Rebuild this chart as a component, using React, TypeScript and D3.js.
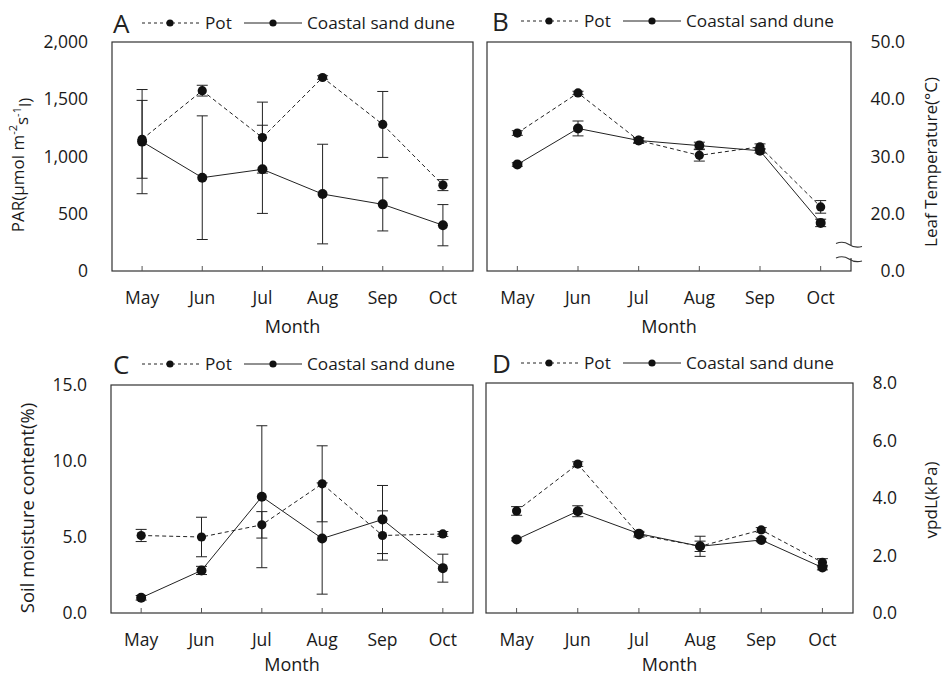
import React, { useRef, useEffect } from 'react';
import * as d3 from 'd3';

const months = ['May', 'Jun', 'Jul', 'Aug', 'Sep', 'Oct'];

// A: PAR
const parPot = [1150, 1575, 1165, 1690, 1280, 750];
const parPotErr = [340, 47, 310, 15, 288, 48];
const parDune = [1130, 815, 888, 672, 582, 400];
const parDuneErr = [455, 540, 385, 435, 232, 180];

// B: leaf temperature
const tempPot = [34.1, 41.1, 32.8, 30.2, 31.7, 21.2];
const tempPotErr = [0.4, 0.3, 0.5, 1.0, 0.5, 1.1];
const tempDune = [28.6, 34.9, 32.8, 31.9, 31.0, 18.4];
const tempDuneErr = [0.3, 1.3, 0.4, 0.6, 0.4, 0.65];

// C: soil moisture
const moistPot = [5.1, 5.0, 5.8, 8.5, 5.1, 5.2];
const moistPotErr = [0.4, 1.3, 0.87, 2.5, 1.62, 0.16];
const moistDune = [1.0, 2.8, 7.65, 4.9, 6.15, 2.95];
const moistDuneErr = [0.15, 0.27, 4.67, 3.66, 2.24, 0.92];

// D: vpdL
const vpdPot = [3.55, 5.18, 2.72, 2.32, 2.89, 1.76];
const vpdPotErr = [0.15, 0.08, 0.08, 0.18, 0.08, 0.13];
const vpdDune = [2.56, 3.54, 2.76, 2.32, 2.54, 1.58];
const vpdDuneErr = [0.05, 0.19, 0.08, 0.35, 0.06, 0.08];

const parTicks = [0, 500, 1000, 1500, 2000];
const tempTicks = [10, 20, 30, 40, 50]; // bottom tick is relabelled "0.0" (broken axis)
const moistTicks = [0, 5, 10, 15];
const vpdTicks = [0, 2, 4, 6, 8];

const FONT = '"Open Sans", "Segoe UI", sans-serif';
const INK = '#1a1a1a';

const panels = [
  {
    letter: 'A', x0: 112, x1: 473, y0: 42, y1: 271, legendY: 23, letterX: 113, monthY: 327,
    domain: [0, 2000], ticks: parTicks, fmt: d3.format(','), tickX: 88,
    title: 'PAR', titleX: 18, titleY: 165,
    pot: parPot, potErr: parPotErr, dune: parDune, duneErr: parDuneErr,
  },
  {
    letter: 'B', x0: 487, x1: 851, y0: 42, y1: 271, legendY: 21, letterX: 492, monthY: 327,
    domain: [10, 50], ticks: tempTicks, fmt: (d: number) => (d === 10 ? '0.0' : d.toFixed(1)), tickX: 905,
    title: 'Leaf Temperature(°C)', titleX: 931, titleY: 162, brk: true,
    pot: tempPot, potErr: tempPotErr, dune: tempDune, duneErr: tempDuneErr,
  },
  {
    letter: 'C', x0: 111, x1: 473, y0: 385, y1: 613, legendY: 364, letterX: 113, monthY: 665,
    domain: [0, 15], ticks: moistTicks, fmt: (d: number) => d.toFixed(1), tickX: 87,
    title: 'Soil moisture content(%)', titleX: 28, titleY: 508,
    pot: moistPot, potErr: moistPotErr, dune: moistDune, duneErr: moistDuneErr,
  },
  {
    letter: 'D', x0: 486, x1: 853, y0: 383, y1: 613, legendY: 363, letterX: 492, monthY: 665,
    domain: [0, 8], ticks: vpdTicks, fmt: (d: number) => d.toFixed(1), tickX: 897,
    title: 'vpdL(kPa)', titleX: 931, titleY: 500,
    pot: vpdPot, potErr: vpdPotErr, dune: vpdDune, duneErr: vpdDuneErr,
  },
];

function drawPanel(svg: any, p: any) {
  const g = svg.append('g');
  const x = d3.scalePoint().domain(months).range([p.x0, p.x1]).padding(0.5);
  const y = d3.scaleLinear().domain(p.domain).range([p.y1, p.y0]);

  // frame
  g.append('rect')
    .attr('x', p.x0).attr('y', p.y0)
    .attr('width', p.x1 - p.x0).attr('height', p.y1 - p.y0)
    .attr('fill', 'none').attr('stroke', '#333').attr('stroke-width', 1.2);

  // x ticks + labels
  months.forEach(m => {
    g.append('line')
      .attr('x1', x(m)).attr('x2', x(m))
      .attr('y1', p.y1).attr('y2', p.y1 - 5)
      .attr('stroke', '#555').attr('stroke-width', 1);
    g.append('text')
      .attr('x', x(m)).attr('y', p.y1 + 27)
      .attr('text-anchor', 'middle').attr('dy', '0.35em')
      .attr('font-size', 17.5).attr('fill', INK)
      .text(m);
  });
  g.append('text')
    .attr('x', (p.x0 + p.x1) / 2).attr('y', p.monthY)
    .attr('text-anchor', 'middle').attr('dy', '0.35em')
    .attr('font-size', 18).attr('fill', INK)
    .text('Month');

  // y tick labels
  p.ticks.forEach((t: number) => {
    g.append('text')
      .attr('x', p.tickX).attr('y', y(t))
      .attr('text-anchor', 'end').attr('dy', '0.35em')
      .attr('font-size', 17.5).attr('fill', INK)
      .text(p.fmt(t));
  });

  // axis title
  const title = g.append('text')
    .attr('transform', `translate(${p.titleX},${p.titleY}) rotate(-90)`)
    .attr('text-anchor', 'middle').attr('dy', '0.35em')
    .attr('font-size', p.letter === 'C' ? 18.5 : 17).attr('fill', INK);
  if (p.letter === 'A') {
    title.append('tspan').text('PAR(μmol m');
    title.append('tspan').attr('font-size', 11).attr('dy', '-0.6em').text('-2');
    title.append('tspan').attr('dy', '0.6em').text('s');
    title.append('tspan').attr('font-size', 11).attr('dy', '-0.6em').text('-1');
    title.append('tspan').attr('dy', '0.6em').text('l)');
  } else {
    title.text(p.title);
  }

  // axis break
  if (p.brk) {
    const ax = p.x1;
    g.append('rect').attr('x', ax - 2).attr('y', 245).attr('width', 4).attr('height', 13).attr('fill', '#fff');
    [243.5, 258].forEach(yy => {
      g.append('path')
        .attr('d', `M${ax - 15},${yy} Q${ax - 8},${yy - 3} ${ax - 2},${yy + 1} T${ax + 11},${yy + 3}`)
        .attr('fill', 'none').attr('stroke', '#333').attr('stroke-width', 1.1);
    });
  }

  const series = [
    { vals: p.pot, errs: p.potErr, dash: '4,3', r: 4.6 },
    { vals: p.dune, errs: p.duneErr, dash: null, r: 5 },
  ];

  // error bars
  series.forEach(s => {
    s.vals.forEach((v: number, i: number) => {
      const cx = x(months[i]) as number;
      const e = s.errs[i];
      g.append('line')
        .attr('x1', cx).attr('x2', cx).attr('y1', y(v - e)).attr('y2', y(v + e))
        .attr('stroke', '#222').attr('stroke-width', 1);
      [v - e, v + e].forEach(c => {
        g.append('line')
          .attr('x1', cx - 5.5).attr('x2', cx + 5.5).attr('y1', y(c)).attr('y2', y(c))
          .attr('stroke', '#222').attr('stroke-width', 1);
      });
    });
  });

  // lines and markers
  series.forEach(s => {
    const line = d3.line<number>().x((d, i) => x(months[i]) as number).y(d => y(d));
    g.append('path')
      .attr('d', line(s.vals))
      .attr('fill', 'none').attr('stroke', '#222').attr('stroke-width', 1)
      .attr('stroke-dasharray', s.dash);
    g.selectAll(null)
      .data(s.vals)
      .enter()
      .append('circle')
      .attr('cx', (d: number, i: number) => x(months[i]))
      .attr('cy', (d: number) => y(d))
      .attr('r', s.r)
      .attr('fill', '#111');
  });

  // legend
  const ly = p.legendY;
  const lx = p.letterX;
  g.append('text')
    .attr('x', lx).attr('y', ly + 9.5)
    .attr('font-size', 26).attr('fill', '#222')
    .text(p.letter);
  g.append('line').attr('x1', lx + 29).attr('x2', lx + 87).attr('y1', ly).attr('y2', ly)
    .attr('stroke', '#222').attr('stroke-width', 1).attr('stroke-dasharray', '3,3');
  g.append('circle').attr('cx', lx + 57).attr('cy', ly).attr('r', 3.6).attr('fill', '#111');
  g.append('text').attr('x', lx + 92).attr('y', ly + 6)
    .attr('font-size', 17.2).attr('fill', INK).text('Pot');
  g.append('line').attr('x1', lx + 131).attr('x2', lx + 189).attr('y1', ly).attr('y2', ly)
    .attr('stroke', '#222').attr('stroke-width', 1);
  g.append('circle').attr('cx', lx + 160).attr('cy', ly).attr('r', 3.6).attr('fill', '#111');
  g.append('text').attr('x', lx + 194).attr('y', ly + 6)
    .attr('font-size', 17.2).attr('fill', INK).text('Coastal sand dune');
}

function App() {
  const svgRef = useRef<SVGSVGElement>(null);

  useEffect(() => {
    const svg = d3.select(svgRef.current);
    svg.selectAll('*').remove();
    svg.append('rect').attr('width', 942).attr('height', 677).attr('fill', '#fff');
    panels.forEach(p => drawPanel(svg, p));
  }, []);

  return (
    <svg
      ref={svgRef}
      width={942}
      height={677}
      style={{ position: 'absolute', left: 0, top: 0, fontFamily: FONT, background: '#fff' }}
    />
  );
}

export default App;
